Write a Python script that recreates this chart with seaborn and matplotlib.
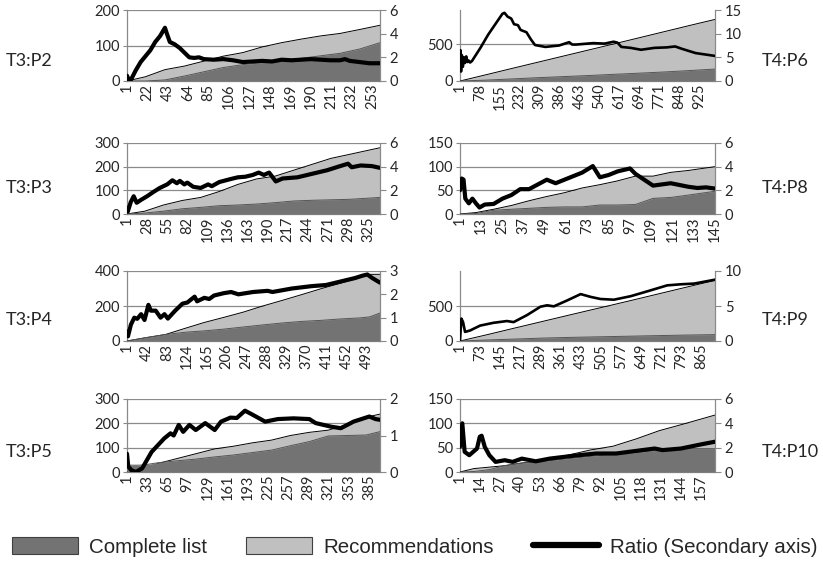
import matplotlib.pyplot as plt
import seaborn as sns
import numpy as np
from matplotlib.patches import Patch
from matplotlib.lines import Line2D

# ---------------- data ----------------
# T3:P2
p2_x = [1, 20, 40, 60, 80, 100, 120, 140, 160, 180, 200, 220, 240, 261]
p2_rec = [0, 12, 32, 42, 56, 70, 80, 96, 108, 118, 127, 134, 145, 157]
p2_cl = [0, 0, 3, 14, 26, 38, 46, 52, 58, 64, 71, 78, 90, 108]
p2_rx = [1, 3, 5, 10, 15, 20, 25, 30, 35, 40, 42, 45, 50, 55, 60, 65, 70, 75, 80, 90,
         100, 110, 120, 130, 140, 150, 160, 170, 180, 190, 200, 210, 220, 225, 230, 240, 250, 261]
p2_ratio = [0.45, 0.05, 0.1, 0.9, 1.6, 2.1, 2.6, 3.3, 3.8, 4.5, 4.0, 3.3, 3.1, 2.8, 2.4, 2.0, 1.95, 2.0, 1.85, 1.8,
            1.85, 1.75, 1.6, 1.65, 1.7, 1.65, 1.8, 1.75, 1.8, 1.85, 1.8, 1.75, 1.75, 1.85, 1.7, 1.6, 1.5, 1.5]

# T4:P6
p6_x = [1, 100, 200, 300, 400, 500, 600, 700, 800, 900, 987]
p6_rec = [0, 84, 170, 255, 340, 425, 510, 596, 682, 768, 841]
p6_cl = [0, 12, 28, 45, 60, 75, 92, 108, 125, 145, 163]
p6_rx = [1, 3, 5, 8, 12, 16, 20, 25, 30, 35, 40, 47, 80, 110, 140, 165, 173, 185, 199, 210, 225, 235,
         258, 275, 291, 331, 384, 423, 435, 450, 516, 560, 595, 610, 625, 661, 701, 753, 800, 833, 859, 912, 987]
p6_ratio = [3.0, 6.5, 2.0, 5.5, 3.0, 5.0, 3.8, 5.2, 4.0, 4.3, 3.9, 4.2, 7.0, 9.8, 12.2, 14.2, 14.4, 13.6, 13.2, 12.0, 11.8, 10.8,
            10.3, 8.8, 7.6, 7.2, 7.5, 8.2, 7.7, 7.7, 8.0, 7.9, 8.3, 8.1, 7.2, 7.0, 6.6, 7.0, 7.1, 7.3, 6.8, 5.9, 5.3]

# T3:P3
p3_x = [1, 25, 50, 75, 100, 125, 150, 175, 200, 225, 250, 275, 300, 341]
p3_rec = [0, 12, 38, 57, 70, 95, 125, 148, 160, 185, 210, 235, 252, 280]
p3_cl = [0, 4, 12, 22, 28, 35, 38, 42, 48, 55, 58, 60, 62, 70]
p3_rx = [1, 2, 6, 10, 14, 20, 28, 35, 45, 55, 62, 68, 72, 78, 82, 90, 100, 110, 115, 125, 140, 150,
         160, 170, 178, 185, 192, 201, 210, 230, 250, 270, 285, 298, 303, 315, 330, 341]
p3_ratio = [0.5, 0.2, 1.0, 1.5, 0.95, 1.2, 1.5, 1.8, 2.2, 2.5, 2.85, 2.6, 2.8, 2.5, 2.65, 2.3, 2.2, 2.5, 2.35, 2.7, 2.95, 3.1,
            3.15, 3.3, 3.5, 3.3, 3.5, 2.75, 3.0, 3.1, 3.4, 3.7, 4.0, 4.25, 3.95, 4.1, 4.05, 3.9]

# T4:P8
p8_x = [1, 10, 20, 30, 40, 50, 60, 70, 80, 90, 100, 110, 120, 130, 145]
p8_rec = [0, 3, 10, 18, 28, 37, 45, 55, 62, 70, 80, 80, 88, 92, 100]
p8_cl = [0, 1, 8, 10, 12, 14, 15, 15, 19, 19, 20, 33, 35, 40, 48]
p8_rx = [1, 2, 3, 4, 6, 8, 10, 12, 15, 20, 25, 30, 35, 40, 45, 50, 55, 60, 65, 70, 76, 80,
         85, 90, 97, 100, 105, 110, 115, 120, 125, 130, 135, 140, 145]
p8_ratio = [2.0, 3.0, 2.9, 1.3, 0.9, 1.3, 0.9, 0.55, 0.8, 0.85, 1.3, 1.6, 2.1, 2.1, 2.5, 2.9, 2.6, 2.9, 3.2, 3.5, 4.05, 3.1,
            3.3, 3.6, 3.85, 3.4, 2.9, 2.4, 2.5, 2.6, 2.45, 2.3, 2.2, 2.25, 2.15]

# T3:P4
p4_x = [1, 40, 80, 120, 160, 200, 240, 280, 320, 360, 400, 440, 480, 500, 521]
p4_rec = [0, 19, 37, 72, 106, 135, 165, 200, 232, 265, 299, 330, 362, 381, 381]
p4_cl = [0, 19, 37, 50, 58, 68, 80, 92, 103, 112, 118, 126, 132, 138, 160]
p4_rx = [1, 3, 9, 16, 22, 30, 37, 45, 50, 60, 70, 78, 85, 100, 115, 125, 140, 145, 160, 170, 180,
         200, 215, 230, 260, 290, 300, 340, 380, 410, 440, 470, 485, 495, 505, 521]
p4_ratio = [0.4, 0.2, 0.7, 1.0, 0.95, 1.15, 0.9, 1.55, 1.3, 1.3, 1.0, 1.15, 0.96, 1.3, 1.6, 1.65, 1.9, 1.7, 1.85, 1.8, 1.95,
            2.05, 2.1, 2.0, 2.1, 2.15, 2.1, 2.25, 2.35, 2.4, 2.55, 2.7, 2.8, 2.85, 2.7, 2.5]

# T4:P9
p9_x = [1, 100, 200, 300, 400, 500, 600, 700, 800, 914]
p9_rec = [0, 92, 188, 283, 378, 472, 566, 662, 758, 866]
p9_cl = [0, 15, 28, 42, 52, 60, 68, 76, 84, 91]
p9_rx = [1, 6, 12, 19, 37, 73, 121, 169, 193, 241, 289, 313, 337, 385, 433, 469, 504,
         552, 612, 672, 743, 791, 839, 914]
p9_ratio = [0.1, 3.2, 2.7, 1.3, 1.5, 2.2, 2.6, 2.85, 2.7, 3.7, 4.9, 5.1, 4.95, 5.8, 6.7, 6.3, 6.0,
            5.9, 6.4, 7.1, 7.95, 8.1, 8.2, 8.76]

# T3:P5
p5_x = [1, 20, 30, 50, 80, 110, 140, 170, 200, 230, 260, 290, 320, 350, 380, 402]
p5_rec = [0, 5, 15, 35, 55, 75, 95, 106, 120, 131, 150, 163, 172, 195, 225, 238]
p5_cl = [28, 28, 30, 38, 46, 53, 62, 70, 80, 90, 108, 125, 148, 150, 152, 166]
p5_rx = [1, 3, 8, 15, 25, 40, 60, 70, 75, 83, 90, 100, 110, 125, 140, 150, 165, 175, 188, 200,
         220, 240, 265, 290, 300, 325, 340, 360, 385, 395, 402]
p5_ratio = [0.5, 0.15, 0.05, 0.0, 0.1, 0.55, 0.92, 1.06, 1.0, 1.29, 1.1, 1.29, 1.15, 1.34, 1.15, 1.38, 1.49, 1.48, 1.68, 1.57,
            1.38, 1.45, 1.47, 1.45, 1.34, 1.24, 1.2, 1.38, 1.52, 1.45, 1.43]

# T4:P10
p10_x = [1, 10, 20, 30, 40, 55, 70, 85, 100, 115, 130, 145, 166]
p10_rec = [0, 7, 10, 13, 18, 24, 34, 45, 53, 68, 85, 98, 117]
p10_cl = [0, 1, 5, 13, 18, 22, 27, 32, 36, 40, 45, 48, 48]
p10_rx = [1, 2.5, 4, 7, 12, 13.8, 15, 17, 20, 24, 30, 35, 41, 50, 59, 72, 89, 102, 119, 127, 132, 144, 157, 166]
p10_ratio = [2.07, 4.0, 1.66, 1.38, 1.93, 2.9, 2.98, 2.07, 1.38, 0.83, 0.97, 0.83, 1.1, 0.88, 1.1, 1.3, 1.52, 1.52,
             1.8, 1.93, 1.8, 1.93, 2.27, 2.49]

legend_labels = ['Complete list', 'Recommendations', 'Ratio (Secondary axis)']

# label, column, row, last category, label step, data, left axis, right axis, line width
panels = [
    ('T3:P2', 0, 0, 261, 21, p2_x, p2_rec, p2_cl, p2_rx, p2_ratio, 200, [0, 100, 200], 6, [0, 2, 4, 6], 3.0),
    ('T4:P6', 1, 0, 987, 77, p6_x, p6_rec, p6_cl, p6_rx, p6_ratio, 970, [0, 500], 15, [0, 5, 10, 15], 1.9),
    ('T3:P3', 0, 1, 341, 27, p3_x, p3_rec, p3_cl, p3_rx, p3_ratio, 300, [0, 100, 200, 300], 6, [0, 2, 4, 6], 3.0),
    ('T4:P8', 1, 1, 145, 12, p8_x, p8_rec, p8_cl, p8_rx, p8_ratio, 150, [0, 50, 100, 150], 6, [0, 2, 4, 6], 3.0),
    ('T3:P4', 0, 2, 521, 41, p4_x, p4_rec, p4_cl, p4_rx, p4_ratio, 400, [0, 200, 400], 3, [0, 1, 2, 3], 3.0),
    ('T4:P9', 1, 2, 914, 72, p9_x, p9_rec, p9_cl, p9_rx, p9_ratio, 1000, [0, 500], 10, [0, 5, 10], 1.9),
    ('T3:P5', 0, 3, 402, 32, p5_x, p5_rec, p5_cl, p5_rx, p5_ratio, 300, [0, 100, 200, 300], 2, [0, 1, 2], 3.0),
    ('T4:P10', 1, 3, 166, 13, p10_x, p10_rec, p10_cl, p10_rx, p10_ratio, 150, [0, 50, 100, 150], 6, [0, 2, 4, 6], 3.0),
]

# ---------------- drawing ----------------
sns.set_style('white')
plt.rcParams['font.family'] = ['Lato', 'DejaVu Sans']

DARK = '#737373'
LIGHT = '#c0c0c0'
AXC = '#8a8a8a'
TICK_FS = 10.5

W, H = 823, 563
fig = plt.figure(figsize=(W / 100, H / 100), dpi=100)

cols = [(127, 380), (460, 715)]
rows = [(10, 81), (143, 214), (271, 341), (399, 472)]
label_y = [61, 188, 320, 452]
label_x = [6, 762]

for (lab, c, r, n, step, x, rec, cl, rx, ratio, ymax, yt, y2max, y2t, lw) in panels:
    x0, x1 = cols[c]
    y0, y1 = rows[r]
    ax = fig.add_axes([x0 / W, 1 - y1 / H, (x1 - x0) / W, (y1 - y0) / H])

    ax.fill_between(x, rec, color=LIGHT, lw=0, zorder=2)
    sns.lineplot(x=x, y=rec, ax=ax, color='black', lw=0.7, zorder=3)
    ax.fill_between(x, cl, color=DARK, lw=0, zorder=4)
    sns.lineplot(x=x, y=cl, ax=ax, color='#555555', lw=0.7, zorder=5)

    ax.set_xlim(1, n)
    ax.set_ylim(0, ymax)
    ax.set_yticks(yt)
    ax.set_xticks(np.arange(1, n + 1, step))
    ax.set_xticklabels([str(v) for v in np.arange(1, n + 1, step)], rotation=90)
    ax.yaxis.grid(True, color=AXC, lw=0.9)
    ax.set_axisbelow(True)
    ax.tick_params(axis='y', length=3, color=AXC, labelsize=TICK_FS, pad=2)
    ax.tick_params(axis='x', length=0, labelsize=TICK_FS, pad=2)
    for s in ['left', 'bottom']:
        ax.spines[s].set_color(AXC)
        ax.spines[s].set_linewidth(0.9)
    ax.spines['top'].set_visible(False)
    ax.spines['right'].set_visible(False)

    ax2 = ax.twinx()
    sns.lineplot(x=rx, y=ratio, ax=ax2, color='black', lw=lw, zorder=6)
    ax2.set_ylim(0, y2max)
    ax2.set_yticks(y2t)
    ax2.set_xlim(1, n)
    ax2.tick_params(axis='y', length=4, color=AXC, labelsize=TICK_FS, pad=3)
    for s in ['left', 'bottom', 'top']:
        ax2.spines[s].set_visible(False)
    ax2.spines['right'].set_color(AXC)
    ax2.spines['right'].set_linewidth(0.9)
    ax.set_ylabel('')
    ax2.set_ylabel('')

    fig.text(label_x[c] / W, 1 - label_y[r] / H, lab, fontsize=13, va='center', ha='left')

handles = [Patch(facecolor=DARK, edgecolor='#404040', lw=0.8),
           Patch(facecolor=LIGHT, edgecolor='#404040', lw=0.8),
           Line2D([0], [0], color='black', lw=4.5)]
fig.legend(handles, legend_labels, loc='center', bbox_to_anchor=(0.504, 1 - 547 / H), ncol=3,
           frameon=False, handlelength=3.2, handleheight=0.83, columnspacing=1.9, handletextpad=0.55,
           prop={'family': 'Liberation Sans', 'size': 14.8})

fig.savefig('out.png', dpi=100)
